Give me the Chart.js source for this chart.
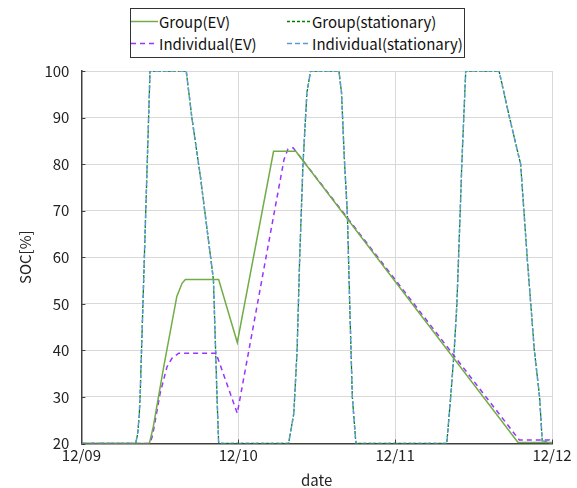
<!DOCTYPE html>
<html>
<head>
<meta charset="utf-8">
<script src="https://cdn.jsdelivr.net/npm/chart.js@4/dist/chart.umd.min.js"></script>
<style>
  body { margin: 0; background: #fff; }
  .wrap { position: relative; width: 577px; height: 488px; }
  .legend {
    position: absolute; left: 130px; top: 8px; width: 333px; height: 48px;
    border: 1px solid #333; background: #fff;
    font: 15px 'Noto Sans CJK JP', 'Noto Sans', sans-serif; color: #111;
  }
  .legend .item { position: absolute; display: flex; align-items: center; white-space: nowrap; }
  .legend svg { display: block; margin-right: 1px; }
</style>
</head>
<body>
<div class="wrap">
  <canvas id="chart" width="577" height="488"></canvas>
  <div class="legend" id="legend"></div>
</div>
<script>
// x values are hours since 12/09 00:00
const dateLabels = ['12/09', '12/10', '12/11', '12/12'];
const dateTicks = [0, 24, 48, 72];

const groupEvHours = [0, 10.4, 11.0, 12.6, 14.6, 15.4, 15.9, 21.0, 23.85, 29.4, 32.8, 66.8, 72];
const groupEvSoc = [20, 20, 23.6, 36.5, 51.6, 54.4, 55.2, 55.2, 41.7, 82.75, 82.75, 20.2, 20.2];

const indivEvHours = [0, 10.5, 10.9, 12.05, 13.1, 13.85, 14.9, 20.6, 23.85, 31.0, 31.6, 32.4, 67.0, 71.6, 72];
const indivEvSoc = [20, 20, 21.8, 30.8, 36.5, 38.3, 39.4, 39.4, 26.5, 81, 83.2, 83.5, 20.75, 20.75, 20];

const stationaryHours = [0, 8.3, 8.6, 8.85, 9.0, 10.5, 16.04, 16.9, 18.2, 20.2, 20.75, 21.0,
  31.7, 32.5, 33.0, 33.4, 33.9, 34.5, 35.06, 39.4, 39.8, 40.2, 40.7, 41.05, 41.45, 42.0,
  55.9, 56.5, 57.04, 57.45, 57.96, 58.2, 58.8, 63.9, 65.5, 67.2, 68.2, 69.3, 70.1, 70.5, 72];
const groupStationarySoc = [20, 20, 22, 26, 30.8, 100, 100, 90, 77.4, 55.2, 30, 20,
  20, 26.5, 40, 60, 80, 95.3, 100, 100, 95.3, 82, 69, 50, 30, 20,
  20, 30, 40, 50, 70, 80, 100, 100, 90, 80, 60, 40, 30, 20.6, 20];
const indivStationarySoc = groupStationarySoc.slice();

const toPoints = (xs, ys) => xs.map((x, i) => ({ x, y: ys[i] }));

const datasets = [
  {
    label: 'Group(EV)',
    data: toPoints(groupEvHours, groupEvSoc),
    borderColor: '#70AD47',
    borderWidth: 1.5,
    borderDash: [],
    order: 0,
  },
  {
    label: 'Group(stationary)',
    data: toPoints(stationaryHours, groupStationarySoc),
    borderColor: '#008000',
    borderWidth: 1.3,
    borderDash: [3, 2],
    order: 3,
  },
  {
    label: 'Individual(EV)',
    data: toPoints(indivEvHours, indivEvSoc),
    borderColor: '#9933FF',
    borderWidth: 1.5,
    borderDash: [5, 4],
    order: 1,
  },
  {
    label: 'Individual(stationary)',
    data: toPoints(stationaryHours, indivStationarySoc),
    borderColor: '#5B9BD5',
    borderWidth: 1.5,
    borderDash: [5, 3],
    order: 2,
  },
];
datasets.forEach((d) => {
  d.pointRadius = 0;
  d.tension = 0;
  d.fill = false;
});

const axisColor = '#404040';
const gridColor = '#d9d9d9';
const tickFont = { family: "'Noto Sans CJK JP', 'Noto Sans', sans-serif", size: 15 };

// small inward tick marks like the original
const innerTicks = {
  id: 'innerTicks',
  afterDatasetsDraw(chart) {
    const { ctx, chartArea, scales } = chart;
    ctx.save();
    ctx.strokeStyle = axisColor;
    ctx.lineWidth = 1;
    ctx.beginPath();
    scales.x.ticks.forEach((t) => {
      const px = Math.round(scales.x.getPixelForValue(t.value)) + 0.5;
      ctx.moveTo(px, chartArea.bottom);
      ctx.lineTo(px, chartArea.bottom - 4);
    });
    scales.y.ticks.forEach((t) => {
      const py = Math.round(scales.y.getPixelForValue(t.value)) + 0.5;
      ctx.moveTo(chartArea.left, py);
      ctx.lineTo(chartArea.left + 4, py);
    });
    ctx.stroke();
    ctx.restore();
  },
};

new Chart(document.getElementById('chart').getContext('2d'), {
  type: 'line',
  data: { datasets },
  options: {
    responsive: false,
    animation: false,
    layout: { padding: { top: 71, right: 25, left: 0, bottom: 0 } },
    plugins: {
      legend: { display: false },
      tooltip: { enabled: false },
    },
    scales: {
      x: {
        type: 'linear',
        min: 0,
        max: 72,
        afterBuildTicks: (scale) => {
          scale.ticks = dateTicks.map((value) => ({ value }));
        },
        afterFit: (scale) => { scale.height = 44.5; },
        ticks: {
          font: tickFont,
          color: '#222',
          padding: 3,
          maxRotation: 0,
          callback: (value) => dateLabels[dateTicks.indexOf(value)],
        },
        grid: { color: gridColor, drawTicks: false },
        border: { color: axisColor, width: 1.5 },
        title: {
          display: true,
          text: 'date',
          font: { ...tickFont, lineHeight: 1 },
          color: '#222',
          padding: { top: 0, bottom: 0 },
        },
      },
      y: {
        min: 20,
        max: 100,
        afterFit: (scale) => { scale.width = 81.4; },
        ticks: {
          stepSize: 10,
          font: tickFont,
          color: '#222',
          padding: 12,
        },
        grid: { color: gridColor, drawTicks: false },
        border: { color: axisColor, width: 1.5 },
        title: {
          display: true,
          text: 'SOC[%]',
          font: tickFont,
          color: '#222',
          padding: { top: 16, bottom: 0 },
        },
      },
    },
  },
  plugins: [innerTicks],
});

// legend box, two columns like the original
const legendEl = document.getElementById('legend');
const legendSlots = [
  { idx: 0, left: 0, top: 2, len: 27 },
  { idx: 1, left: 156, top: 2, len: 24 },
  { idx: 2, left: 0, top: 24, len: 27 },
  { idx: 3, left: 156, top: 24, len: 24 },
];
legendSlots.forEach((slot) => {
  const ds = datasets[slot.idx];
  const item = document.createElement('div');
  item.className = 'item';
  item.style.left = slot.left + 'px';
  item.style.top = slot.top + 'px';
  item.style.height = '20px';
  const dash = ds.borderDash.length ? `stroke-dasharray="${ds.borderDash.join(' ')}"` : '';
  item.innerHTML = `<svg width="${slot.len}" height="20"><line x1="0" y1="10.5" x2="${slot.len}" y2="10.5" stroke="${ds.borderColor}" stroke-width="${ds.borderWidth}" ${dash}/></svg><span>${ds.label}</span>`;
  legendEl.appendChild(item);
});
</script>
</body>
</html>
